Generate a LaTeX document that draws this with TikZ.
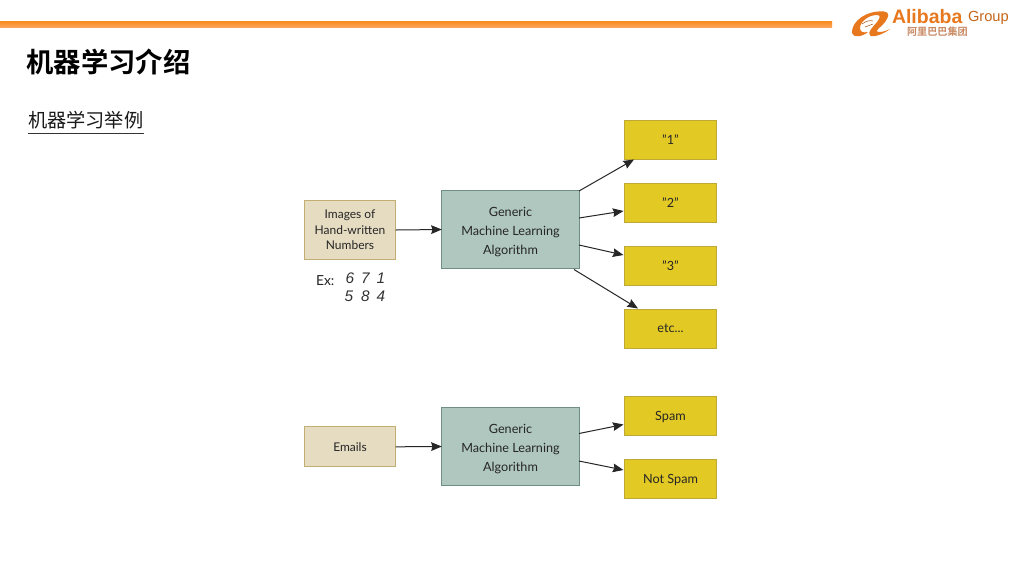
\documentclass[tikz,border=0pt]{standalone}
\usepackage{fontspec}
\setmainfont{Lato}
\newfontfamily\cjk{Noto Sans CJK SC}
\newfontfamily\cjkb{Noto Sans CJK SC}[BoldFont={* Bold}]
\newfontfamily\libs{Liberation Sans}
\usetikzlibrary{arrows.meta}
\definecolor{bartop}{HTML}{F98A1E}
\definecolor{barbot}{HTML}{FDA55C}
\definecolor{logoo}{HTML}{E8781E}
\definecolor{logob}{HTML}{C98A63}
\definecolor{tanfill}{HTML}{E6DCC2}
\definecolor{tanline}{HTML}{C2AE72}
\definecolor{greenfill}{HTML}{AFC7BE}
\definecolor{greenline}{HTML}{6F8F85}
\definecolor{yelfill}{HTML}{E3C924}
\definecolor{yelline}{HTML}{BDA838}
\tikzset{
  every node/.style={inner sep=0pt,outer sep=0pt},
  box/.style={draw,line width=0.7pt,align=center,text=black!85},
  inbox/.style={box,fill=tanfill,draw=tanline,minimum width=68.5pt,minimum height=30pt,font=\fontsize{9}{11.6}\selectfont},
  algo/.style={box,fill=greenfill,draw=greenline,minimum width=103pt,minimum height=59pt},
  algotext/.style={align=center,text=black!85,font=\fontsize{9.5}{14.3}\selectfont,yshift=-1.9pt},
  outbox/.style={box,fill=yelfill,draw=yelline,minimum width=68.5pt,minimum height=29.3pt,font=\fontsize{9.5}{12}\selectfont},
  conn/.style={draw=black!85,line width=0.75pt,-{Stealth[inset=1pt,length=8pt,width=6.5pt]}},
  digit/.style={font=\fontsize{11.5}{12}\selectfont\itshape\libs,text=black!80}
}
\begin{document}
\begin{tikzpicture}[x=0.75pt,y=-0.75pt]
\useasboundingbox (0,0) rectangle (1024,576);
\fill[white] (0,0) rectangle (1024,576);
% top bar
\shade[top color=bartop,bottom color=barbot] (0,21) rectangle (832,27.5);
% logo
\node[anchor=west,text=logoo,font=\libs\bfseries\fontsize{14.6}{15}\selectfont] (alibaba) at (892,16.5) {Alibaba};
\node[anchor=west,text=logoo!85!black,font=\libs\fontsize{11}{12}\selectfont] (group) at (968,17.5) {Group};
\node[anchor=west,text=logob,font=\cjkb\bfseries\fontsize{7.6}{9}\selectfont] (alicn) at (907,31.5) {阿里巴巴集团};
\fill[logoo] (852,33) .. controls (851,22) and (866,10) .. (884,11.5)
  .. controls (890,12) and (889,17) .. (885,22) .. controls (880,28) and (876,30) .. (877,31.5)
  .. controls (880,33) and (886,31) .. (890,29) .. controls (884,34) and (873,38) .. (870,35.5)
  .. controls (867,32) and (873,27) .. (877,22) .. controls (880,18) and (881,15) .. (877,15)
  .. controls (868,15) and (860,22) .. (860,28) .. controls (860,32) and (863,33) .. (868,32)
  .. controls (862,37) and (853,38) .. (852,33) -- cycle;
\draw[logoo!70!black,line width=0.4pt] (862,24) .. controls (866,21) and (870,20) .. (873,21) (865,27) -- (873,24);
% headings
\node[anchor=west,font=\cjkb\bfseries\fontsize{20.5}{24}\selectfont] (title) at (26.5,62) {机器学习介绍};
\node[anchor=west,font=\cjk\fontsize{14.4}{17}\selectfont,text=black!90] (sub) at (28,120.5) {机器学习举例};
\draw[black!80,line width=1pt] (28,133.5) -- (143.5,133.5);
% top row
\node[inbox,minimum height=44.5pt] (images) at (350,230) {Images of\\Hand-written\\Numbers};
\node[algo,label={[algotext]center:{Generic\\Machine Learning\\Algorithm}}] (algoa) at (510.5,229.5) {};
\node[outbox] (o1) at (670.5,139.5) {"1"};
\node[outbox] (o2) at (670.5,202.5) {"2"};
\node[outbox] (o3) at (670.5,265.5) {"3"};
\node[outbox] (o4) at (670.5,328.5) {etc...};
\draw[conn] (images.east) -- (algoa.west);
\coordinate (a1) at (579,191);
\coordinate (a2) at (579,218);
\coordinate (a3) at (579,245);
\coordinate (a4) at (574,269.5);
\coordinate (t1) at (634,159.5);
\coordinate (t2) at (623.5,211);
\coordinate (t3) at (623.5,255);
\coordinate (t4) at (638,308.5);
\draw[conn] (a1) -- (t1);
\draw[conn] (a2) -- (t2);
\draw[conn] (a3) -- (t3);
\draw[conn] (a4) -- (t4);
% sample digits
\node[anchor=west,font=\fontsize{10.4}{12}\selectfont,text=black!85] (ex) at (316,281) {Ex:};
\node[digit] (d1) at (350,278.5) {6};
\node[digit] (d2) at (365.5,278.5) {7};
\node[digit] (d3) at (381,278.5) {1};
\node[digit] (d4) at (349,296.5) {5};
\node[digit] (d5) at (365.5,296.5) {8};
\node[digit] (d6) at (381,296.5) {4};
% bottom row
\node[inbox] (emails) at (350,446.8) {Emails};
\node[algo,label={[algotext]center:{Generic\\Machine Learning\\Algorithm}}] (algob) at (510.5,446.5) {};
\node[outbox,execute at begin node=\rule{0pt}{9.5pt}] (spam) at (670.5,415.5) {Spam};
\node[outbox,execute at begin node=\rule{0pt}{9.5pt}] (notspam) at (670.5,478.5) {Not Spam};
\draw[conn] (emails.east) -- (algob.west);
\coordinate (b1) at (579,433.5);
\coordinate (b2) at (579,461);
\coordinate (u1) at (623.5,424.5);
\coordinate (u2) at (623.5,470);
\draw[conn] (b1) -- (u1);
\draw[conn] (b2) -- (u2);
\end{tikzpicture}
\end{document}
